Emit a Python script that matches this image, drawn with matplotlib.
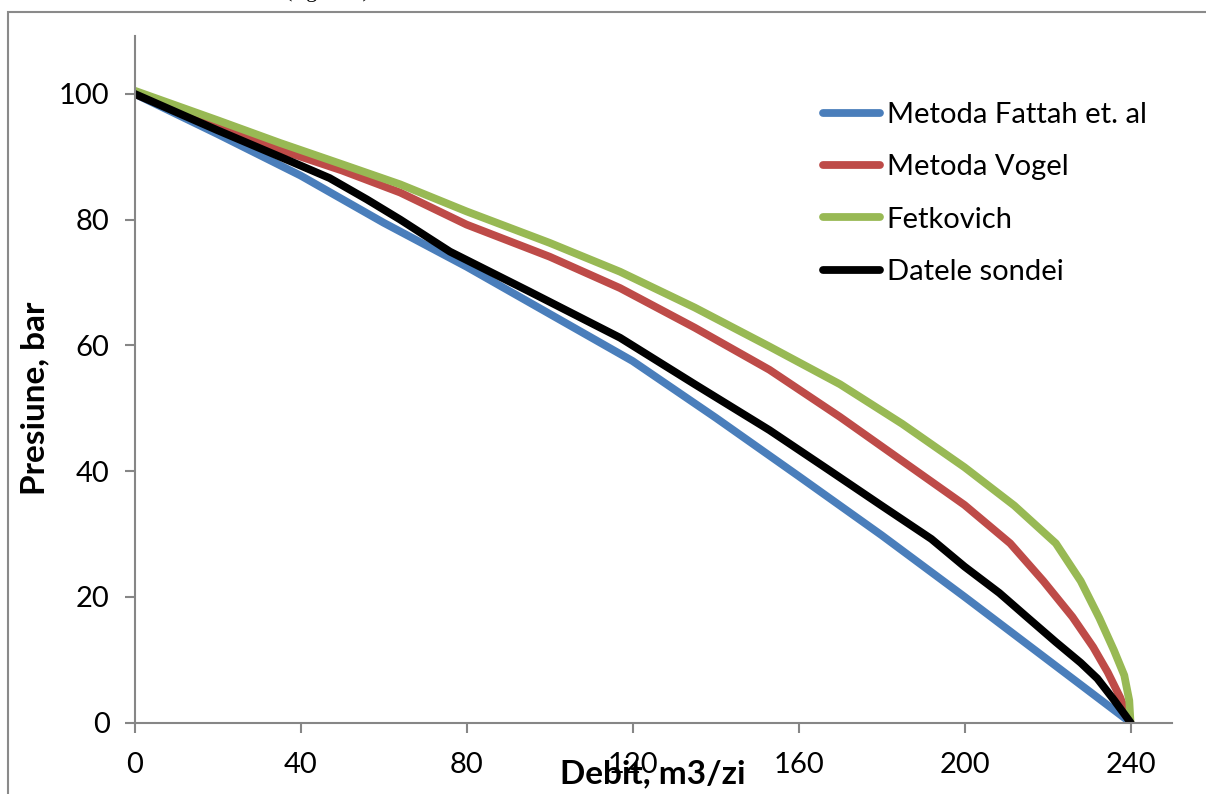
import matplotlib
matplotlib.use("Agg")
import matplotlib.pyplot as plt
from matplotlib.patches import Rectangle

plt.rcParams['font.family'] = ['Lato', 'DejaVu Sans']

# debit (m3/zi) and presiune (bar)
q_fattah = [0, 20, 40, 60, 80, 100, 120, 140, 160, 180, 200, 220, 240]
p_fattah = [100, 93.6, 87, 79.5, 72.5, 65, 57.5, 48.5, 39.2, 29.8, 20, 10, 0]

q_vogel = [0, 20, 35, 50, 64, 80, 100, 117, 135, 153, 170, 185, 200, 211, 219, 226, 231, 234.5, 237.5, 239, 240]
p_vogel = [100, 94.7, 91.1, 87.8, 84.3, 79.2, 74.1, 69.1, 62.8, 56.1, 48.6, 41.6, 34.6, 28.5, 22.5, 16.8, 12, 8, 4, 1.5, 0]

q_fetk = [0, 20, 35, 50, 64, 80, 100, 117, 135, 153, 170, 185, 200, 212, 222, 228, 232.5, 236, 238.5, 239.7, 240]
p_fetk = [100.5, 95.8, 92.2, 88.8, 85.6, 81.3, 76.3, 71.7, 66.0, 59.8, 53.8, 47.5, 40.6, 34.5, 28.5, 22.5, 16.6, 11.5, 7.5, 3.5, 0]

q_sonda = [0, 20, 35, 47, 56, 64, 76, 95, 117, 135, 153, 167, 180, 192, 200, 208.4, 215, 222, 228, 232, 236, 240]
p_sonda = [100, 94.2, 90.0, 86.6, 83.2, 80.0, 74.9, 68.6, 61.2, 53.8, 46.5, 40.3, 34.5, 29.2, 24.8, 20.6, 16.8, 12.8, 9.5, 7.0, 3.6, 0]

x_ticks = [0, 40, 80, 120, 160, 200, 240]
y_ticks = [0, 20, 40, 60, 80, 100]

W, H = 1206, 794
fig = plt.figure(figsize=(W / 100, H / 100), dpi=100)

# outer frame of the embedded chart
fig.patches.append(Rectangle((8 / W, -0.1), 1.2, 1 + 0.1 - 11.5 / H, transform=fig.transFigure,
                             fill=False, edgecolor='#8a8a8a', linewidth=1.5))
# caption of the page above, cut off
fig.text(285 / W, 1 + 3 / H, '(figura 4)', family='Liberation Serif', fontsize=16,
         va='baseline', ha='left')

x0, x1 = 134.6, 1172
y0, y1 = 722.5, 36
ax = fig.add_axes([x0 / W, 1 - y0 / H, (x1 - x0) / W, (y0 - y1) / H])

lw = 5.6
ax.plot(q_fattah, p_fattah, color='#4A7EBB', lw=lw, solid_capstyle='round', solid_joinstyle='round',
        label='Metoda Fattah et. al')
ax.plot(q_vogel, p_vogel, color='#BE4B48', lw=lw, solid_capstyle='round', solid_joinstyle='round',
        label='Metoda Vogel')
ax.plot(q_fetk, p_fetk, color='#98B954', lw=lw, solid_capstyle='round', solid_joinstyle='round',
        label='Fetkovich')
ax.plot(q_sonda, p_sonda, color='black', lw=lw, solid_capstyle='round', solid_joinstyle='round',
        label='Datele sondei')

ax.set_xlim(0, 250)
ax.set_ylim(0, 109.2)
ax.set_xticks(x_ticks)
ax.set_yticks(y_ticks)
for s in ['top', 'right']:
    ax.spines[s].set_visible(False)
for s in ['left', 'bottom']:
    ax.spines[s].set_color('#868686')
    ax.spines[s].set_linewidth(1.5)
ax.tick_params(axis='both', direction='out', length=7, width=1.5, color='#868686', labelsize=21)
ax.tick_params(axis='x', pad=14)
ax.tick_params(axis='y', pad=11)

fig.text(653 / W, 1 - 774 / H, 'Debit, m3/zi', fontsize=24, fontweight='bold', ha='center', va='center')
fig.text(35 / W, 1 - 398 / H, 'Presiune, bar', fontsize=24, fontweight='bold', ha='center', va='center',
         rotation=90)

ax.legend(loc='upper left', bbox_to_anchor=(823 / W, 1 - 102 / H), bbox_transform=fig.transFigure,
          frameon=False, fontsize=21, handlelength=1.95, handletextpad=0.24, labelspacing=0.9,
          borderaxespad=0, borderpad=0)

fig.savefig('out.png', dpi=100)
